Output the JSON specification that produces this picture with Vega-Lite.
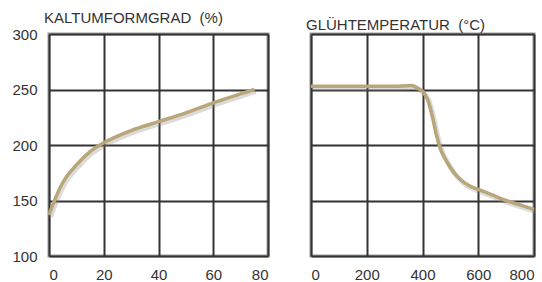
{
  "$schema": "https://vega.github.io/schema/vega-lite/v6.json",
  "padding": {"left": 10, "top": 9, "right": 0, "bottom": 0},
  "bounds": "flush",
  "spacing": 43,
  "background": "white",
  "config": {
    "font": "Liberation Sans",
    "view": {"stroke": "#9a9a9a", "strokeWidth": 3},
    "axis": {
      "domain": false,
      "ticks": false,
      "grid": true,
      "gridColor": "#333333",
      "gridWidth": 2,
      "gridOpacity": 1,
      "labelFont": "Liberation Sans",
      "labelFontSize": 15,
      "labelColor": "#333333",
      "title": null
    },
    "title": {"font": "Liberation Sans", "fontSize": 15, "fontWeight": "normal", "color": "#333333", "anchor": "start", "frame": "group", "offset": 1, "dx": -5}
  },
  "datasets": {
    "kalt": [
      {"x": 0, "y": 137}, {"x": 2, "y": 150}, {"x": 5, "y": 166}, {"x": 10, "y": 182},
      {"x": 15, "y": 194}, {"x": 20, "y": 202}, {"x": 25, "y": 208}, {"x": 30, "y": 213},
      {"x": 40, "y": 221}, {"x": 50, "y": 229}, {"x": 60, "y": 238}, {"x": 70, "y": 246}, {"x": 75, "y": 250}
    ],
    "glueh": [
      {"x": 0, "y": 253}, {"x": 100, "y": 253}, {"x": 200, "y": 253}, {"x": 300, "y": 253},
      {"x": 360, "y": 253.5}, {"x": 385, "y": 251}, {"x": 405, "y": 247}, {"x": 420, "y": 240},
      {"x": 435, "y": 226}, {"x": 450, "y": 209}, {"x": 465, "y": 196}, {"x": 485, "y": 186},
      {"x": 510, "y": 176}, {"x": 540, "y": 168}, {"x": 570, "y": 163}, {"x": 600, "y": 160},
      {"x": 650, "y": 155}, {"x": 700, "y": 150}, {"x": 750, "y": 146}, {"x": 800, "y": 142}
    ]
  },
  "hconcat": [
    {
      "width": 219,
      "height": 222,
      "title": {"text": "KALTUMFORMGRAD\u00a0 (%)"},
      "data": {"name": "kalt"},
      "encoding": {
        "x": {"field": "x", "type": "quantitative", "scale": {"domain": [0, 80], "nice": false}, "axis": {"values": [0, 20, 40, 60, 80], "labelPadding": 11}},
        "y": {"field": "y", "type": "quantitative", "scale": {"domain": [100, 300], "nice": false, "zero": false}, "axis": {"values": [100, 150, 200, 250, 300], "labelPadding": 12}}
      },
      "layer": [
        {"mark": {"type": "line", "color": "#888888", "strokeWidth": 5, "opacity": 0.3, "xOffset": 1.5, "yOffset": 2, "interpolate": "monotone"}},
        {"mark": {"type": "line", "color": "#b9a679", "strokeWidth": 3.5, "interpolate": "monotone"}}
      ]
    },
    {
      "width": 223,
      "height": 222,
      "title": {"text": "GLÜHTEMPERATUR\u00a0 (°C)"},
      "data": {"name": "glueh"},
      "encoding": {
        "x": {"field": "x", "type": "quantitative", "scale": {"domain": [0, 800], "nice": false}, "axis": {"values": [0, 200, 400, 600, 800], "labelPadding": 11}},
        "y": {"field": "y", "type": "quantitative", "scale": {"domain": [100, 300], "nice": false, "zero": false}, "axis": {"values": [100, 150, 200, 250, 300], "labels": false, "minExtent": 0, "maxExtent": 0}}
      },
      "layer": [
        {"mark": {"type": "line", "color": "#888888", "strokeWidth": 5, "opacity": 0.3, "xOffset": 1.5, "yOffset": 2, "interpolate": "monotone"}},
        {"mark": {"type": "line", "color": "#b9a679", "strokeWidth": 3.5, "interpolate": "monotone"}}
      ]
    }
  ]
}
